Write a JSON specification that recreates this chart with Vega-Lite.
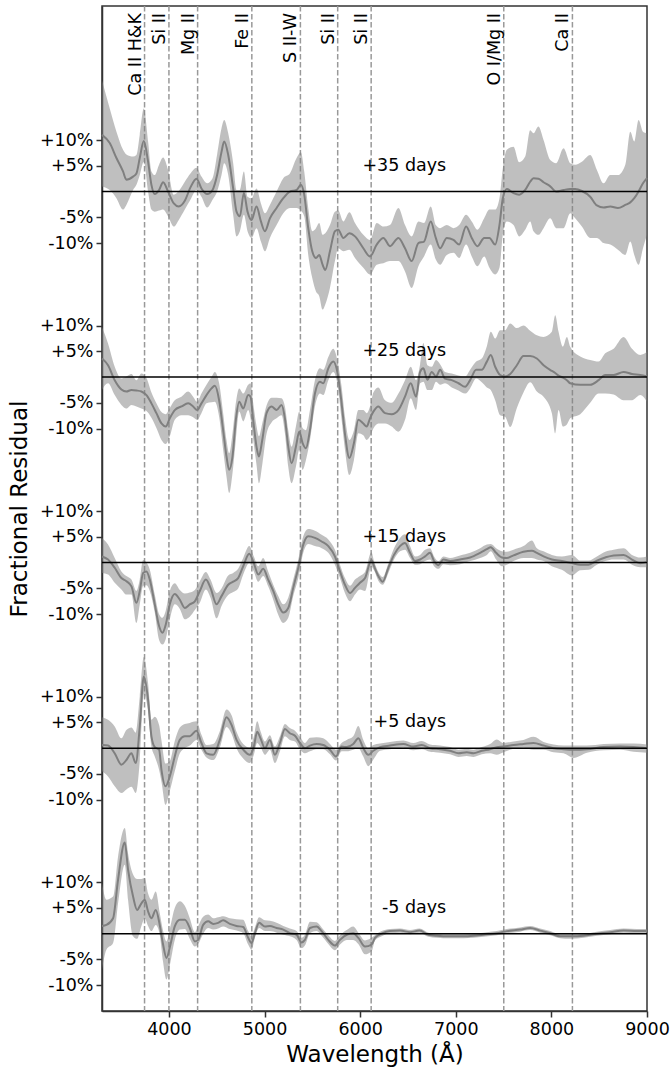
{
  "$schema": "https://vega.github.io/schema/vega-lite/v6.json",
  "width": 545,
  "height": 1005,
  "autosize": "none",
  "padding": {"left": 102, "top": 6, "right": 23, "bottom": 61},
  "background": "white",
  "config": {
    "font": "DejaVu Sans",
    "view": {"stroke": "#333333", "strokeWidth": 1.5},
    "axis": {
      "grid": false,
      "labelFontSize": 17.5,
      "labelColor": "black",
      "labelFlush": false,
      "labelOverlap": false,
      "titleFontSize": 23,
      "titleFontWeight": "normal",
      "titleColor": "black",
      "tickSize": 6,
      "tickWidth": 1.5,
      "tickColor": "#333333",
      "domainColor": "#333333",
      "domainWidth": 1.5,
      "labelPadding": 3
    }
  },
  "datasets": {
    "lines": [
      {"w": 3745, "name": "Ca II H&K"},
      {"w": 4000, "name": "Si II"},
      {"w": 4300, "name": "Mg II"},
      {"w": 4867, "name": "Fe II"},
      {"w": 5375, "name": "S II-W"},
      {"w": 5765, "name": "Si II"},
      {"w": 6115, "name": "Si II"},
      {"w": 7502, "name": "O I/Mg II"},
      {"w": 8220, "name": "Ca II"}
    ],
    "days": [
      {"d": 35, "label": "+35 days"},
      {"d": 25, "label": "+25 days"},
      {"d": 15, "label": "+15 days"},
      {"d": 5, "label": "+5 days"},
      {"d": -5, "label": "-5 days"}
    ],
    "curves": [
      {"d":35,"w":3300,"m":11.0,"lo":1.0,"hi":21.6},
      {"d":35,"w":3381,"m":9.4,"lo":0.3,"hi":16.1},
      {"d":35,"w":3451,"m":6.5,"lo":-1.3,"hi":11.6},
      {"d":35,"w":3520,"m":3.9,"lo":-3.5,"hi":8.1},
      {"d":35,"w":3555,"m":2.3,"lo":-2.6,"hi":7.2},
      {"d":35,"w":3625,"m":2.9,"lo":0.3,"hi":6.8},
      {"d":35,"w":3660,"m":3.5,"lo":1.3,"hi":7.1},
      {"d":35,"w":3695,"m":6.5,"lo":3.2,"hi":11.0},
      {"d":35,"w":3737,"m":9.8,"lo":5.8,"hi":16.1},
      {"d":35,"w":3782,"m":5.8,"lo":0.0,"hi":9.7},
      {"d":35,"w":3817,"m":1.3,"lo":-3.5,"hi":3.9},
      {"d":35,"w":3852,"m":-0.5,"lo":-3.9,"hi":3.2},
      {"d":35,"w":3897,"m":0.3,"lo":-3.7,"hi":5.2},
      {"d":35,"w":3939,"m":1.8,"lo":-3.5,"hi":6.6},
      {"d":35,"w":3991,"m":0.0,"lo":-4.8,"hi":4.2},
      {"d":35,"w":4051,"m":-2.3,"lo":-6.8,"hi":-0.6},
      {"d":35,"w":4103,"m":-2.9,"lo":-5.5,"hi":0.1},
      {"d":35,"w":4166,"m":-1.8,"lo":-3.5,"hi":1.9},
      {"d":35,"w":4225,"m":0.8,"lo":-1.6,"hi":3.5},
      {"d":35,"w":4288,"m":2.5,"lo":0.3,"hi":4.6},
      {"d":35,"w":4340,"m":0.6,"lo":-1.0,"hi":2.9},
      {"d":35,"w":4400,"m":-0.5,"lo":-3.1,"hi":1.6},
      {"d":35,"w":4456,"m":0.3,"lo":-1.6,"hi":2.6},
      {"d":35,"w":4504,"m":3.2,"lo":0.0,"hi":7.2},
      {"d":35,"w":4550,"m":7.7,"lo":3.2,"hi":12.3},
      {"d":35,"w":4578,"m":9.7,"lo":5.5,"hi":13.9},
      {"d":35,"w":4620,"m":7.1,"lo":3.2,"hi":11.3},
      {"d":35,"w":4672,"m":0.6,"lo":-4.5,"hi":5.5},
      {"d":35,"w":4707,"m":-3.9,"lo":-8.7,"hi":0.3},
      {"d":35,"w":4742,"m":-4.8,"lo":-7.7,"hi":0.3},
      {"d":35,"w":4784,"m":-0.3,"lo":-4.5,"hi":3.9},
      {"d":35,"w":4822,"m":-3.9,"lo":-7.7,"hi":-1.0},
      {"d":35,"w":4864,"m":-5.5,"lo":-9.0,"hi":-1.3},
      {"d":35,"w":4916,"m":-2.9,"lo":-7.1,"hi":0.6},
      {"d":35,"w":4962,"m":-5.8,"lo":-9.7,"hi":-2.3},
      {"d":35,"w":5004,"m":-7.7,"lo":-11.6,"hi":-4.2},
      {"d":35,"w":5056,"m":-5.2,"lo":-9.0,"hi":-2.6},
      {"d":35,"w":5126,"m":-3.2,"lo":-6.5,"hi":0.0},
      {"d":35,"w":5196,"m":-1.3,"lo":-4.2,"hi":2.6},
      {"d":35,"w":5265,"m":0.0,"lo":-3.2,"hi":3.5},
      {"d":35,"w":5335,"m":0.3,"lo":-3.2,"hi":6.5},
      {"d":35,"w":5380,"m":1.3,"lo":-3.7,"hi":7.6},
      {"d":35,"w":5415,"m":-0.6,"lo":-4.8,"hi":3.9},
      {"d":35,"w":5457,"m":-7.1,"lo":-12.3,"hi":-3.2},
      {"d":35,"w":5499,"m":-11.6,"lo":-16.8,"hi":-7.7},
      {"d":35,"w":5538,"m":-12.9,"lo":-19.4,"hi":-7.1},
      {"d":35,"w":5572,"m":-12.3,"lo":-20.3,"hi":-6.1},
      {"d":35,"w":5607,"m":-14.2,"lo":-22.9,"hi":-8.4},
      {"d":35,"w":5635,"m":-15.2,"lo":-21.9,"hi":-8.1},
      {"d":35,"w":5684,"m":-11.6,"lo":-18.7,"hi":-6.5},
      {"d":35,"w":5736,"m":-7.7,"lo":-13.5,"hi":-3.9},
      {"d":35,"w":5771,"m":-7.4,"lo":-11.0,"hi":-3.7},
      {"d":35,"w":5824,"m":-9.0,"lo":-11.6,"hi":-5.8},
      {"d":35,"w":5887,"m":-8.1,"lo":-11.3,"hi":-4.0},
      {"d":35,"w":5946,"m":-8.7,"lo":-12.9,"hi":-6.1},
      {"d":35,"w":6033,"m":-11.0,"lo":-14.8,"hi":-8.4},
      {"d":35,"w":6103,"m":-12.6,"lo":-16.1,"hi":-9.4},
      {"d":35,"w":6173,"m":-10.3,"lo":-14.2,"hi":-6.1},
      {"d":35,"w":6243,"m":-9.0,"lo":-13.9,"hi":-6.8},
      {"d":35,"w":6312,"m":-10.6,"lo":-13.5,"hi":-6.5},
      {"d":35,"w":6400,"m":-9.0,"lo":-13.5,"hi":-3.2},
      {"d":35,"w":6469,"m":-11.0,"lo":-15.5,"hi":-6.5},
      {"d":35,"w":6539,"m":-13.5,"lo":-18.7,"hi":-8.7},
      {"d":35,"w":6609,"m":-10.0,"lo":-14.5,"hi":-5.8},
      {"d":35,"w":6668,"m":-9.7,"lo":-12.6,"hi":-6.1},
      {"d":35,"w":6738,"m":-5.8,"lo":-10.3,"hi":-2.9},
      {"d":35,"w":6791,"m":-9.0,"lo":-13.2,"hi":-6.5},
      {"d":35,"w":6836,"m":-11.0,"lo":-14.2,"hi":-7.1},
      {"d":35,"w":6906,"m":-9.0,"lo":-12.3,"hi":-6.5},
      {"d":35,"w":6976,"m":-9.4,"lo":-11.9,"hi":-7.1},
      {"d":35,"w":7035,"m":-10.3,"lo":-12.9,"hi":-6.5},
      {"d":35,"w":7108,"m":-6.8,"lo":-10.3,"hi":-4.5},
      {"d":35,"w":7167,"m":-9.0,"lo":-12.6,"hi":-5.8},
      {"d":35,"w":7227,"m":-10.6,"lo":-14.5,"hi":-7.4},
      {"d":35,"w":7297,"m":-9.0,"lo":-12.6,"hi":-5.2},
      {"d":35,"w":7352,"m":-9.0,"lo":-14.8,"hi":-3.5},
      {"d":35,"w":7412,"m":-10.3,"lo":-16.1,"hi":-3.5},
      {"d":35,"w":7457,"m":-6.5,"lo":-14.8,"hi":-1.3},
      {"d":35,"w":7492,"m":-1.3,"lo":-8.4,"hi":4.5},
      {"d":35,"w":7534,"m":0.5,"lo":-5.8,"hi":8.1},
      {"d":35,"w":7604,"m":-0.3,"lo":-6.5,"hi":8.7},
      {"d":35,"w":7663,"m":-0.6,"lo":-8.7,"hi":5.7},
      {"d":35,"w":7726,"m":0.3,"lo":-7.4,"hi":6.8},
      {"d":35,"w":7778,"m":1.9,"lo":-5.8,"hi":11.9},
      {"d":35,"w":7813,"m":2.6,"lo":-7.7,"hi":11.3},
      {"d":35,"w":7865,"m":2.5,"lo":-8.4,"hi":12.6},
      {"d":35,"w":7918,"m":1.8,"lo":-7.1,"hi":10.0},
      {"d":35,"w":7988,"m":1.0,"lo":-5.2,"hi":6.1},
      {"d":35,"w":8050,"m":0.0,"lo":-7.1,"hi":5.5},
      {"d":35,"w":8127,"m":0.3,"lo":-7.1,"hi":8.4},
      {"d":35,"w":8197,"m":0.5,"lo":-4.2,"hi":5.5},
      {"d":35,"w":8249,"m":0.5,"lo":-5.2,"hi":5.2},
      {"d":35,"w":8319,"m":0.1,"lo":-6.8,"hi":5.8},
      {"d":35,"w":8406,"m":-1.0,"lo":-9.0,"hi":7.1},
      {"d":35,"w":8476,"m":-2.7,"lo":-9.0,"hi":4.2},
      {"d":35,"w":8546,"m":-3.1,"lo":-10.0,"hi":1.6},
      {"d":35,"w":8616,"m":-2.9,"lo":-10.3,"hi":3.2},
      {"d":35,"w":8696,"m":-3.2,"lo":-11.3,"hi":3.2},
      {"d":35,"w":8773,"m":-2.6,"lo":-12.3,"hi":5.2},
      {"d":35,"w":8825,"m":-2.1,"lo":-9.7,"hi":11.6},
      {"d":35,"w":8867,"m":-1.3,"lo":-12.3,"hi":9.7},
      {"d":35,"w":8912,"m":0.0,"lo":-14.2,"hi":13.9},
      {"d":35,"w":8958,"m":1.6,"lo":-11.0,"hi":11.6},
      {"d":35,"w":9000,"m":2.6,"lo":-8.4,"hi":11.3},

      {"d":25,"w":3300,"m":3.6,"lo":-2.5,"hi":9.7},
      {"d":25,"w":3363,"m":2.3,"lo":-1.2,"hi":6.5},
      {"d":25,"w":3433,"m":-0.6,"lo":-3.5,"hi":2.0},
      {"d":25,"w":3503,"m":-2.4,"lo":-5.4,"hi":-0.3},
      {"d":25,"w":3555,"m":-2.8,"lo":-6.1,"hi":0.1},
      {"d":25,"w":3608,"m":-2.5,"lo":-5.4,"hi":0.6},
      {"d":25,"w":3660,"m":-2.6,"lo":-5.7,"hi":-0.6},
      {"d":25,"w":3712,"m":-2.8,"lo":-6.1,"hi":0.7},
      {"d":25,"w":3765,"m":-3.5,"lo":-6.6,"hi":-0.2},
      {"d":25,"w":3817,"m":-5.1,"lo":-7.9,"hi":-3.0},
      {"d":25,"w":3869,"m":-7.0,"lo":-9.9,"hi":-5.1},
      {"d":25,"w":3922,"m":-9.0,"lo":-12.2,"hi":-6.8},
      {"d":25,"w":3967,"m":-9.6,"lo":-13.0,"hi":-7.2},
      {"d":25,"w":4009,"m":-8.0,"lo":-11.5,"hi":-6.0},
      {"d":25,"w":4061,"m":-6.4,"lo":-8.3,"hi":-4.5},
      {"d":25,"w":4131,"m":-5.7,"lo":-7.4,"hi":-3.8},
      {"d":25,"w":4201,"m":-5.1,"lo":-7.4,"hi":-2.8},
      {"d":25,"w":4253,"m":-5.7,"lo":-7.8,"hi":-3.8},
      {"d":25,"w":4295,"m":-6.4,"lo":-8.3,"hi":-4.8},
      {"d":25,"w":4340,"m":-5.1,"lo":-7.0,"hi":-3.2},
      {"d":25,"w":4393,"m":-3.5,"lo":-5.1,"hi":-1.5},
      {"d":25,"w":4445,"m":-2.2,"lo":-4.9,"hi":0.0},
      {"d":25,"w":4480,"m":-1.7,"lo":-4.8,"hi":1.0},
      {"d":25,"w":4525,"m":-4.5,"lo":-7.7,"hi":-1.2},
      {"d":25,"w":4567,"m":-10.3,"lo":-14.1,"hi":-7.0},
      {"d":25,"w":4602,"m":-15.4,"lo":-19.3,"hi":-12.2},
      {"d":25,"w":4630,"m":-18.0,"lo":-22.5,"hi":-14.8},
      {"d":25,"w":4665,"m":-15.4,"lo":-18.6,"hi":-10.9},
      {"d":25,"w":4700,"m":-8.3,"lo":-12.2,"hi":-5.0},
      {"d":25,"w":4735,"m":-4.8,"lo":-6.7,"hi":-2.2},
      {"d":25,"w":4777,"m":-6.1,"lo":-8.6,"hi":-3.2},
      {"d":25,"w":4829,"m":-3.5,"lo":-6.4,"hi":-1.5},
      {"d":25,"w":4853,"m":-3.8,"lo":-8.0,"hi":-1.2},
      {"d":25,"w":4881,"m":-8.3,"lo":-12.0,"hi":-5.0},
      {"d":25,"w":4916,"m":-13.5,"lo":-17.0,"hi":-9.5},
      {"d":25,"w":4941,"m":-15.4,"lo":-20.6,"hi":-11.5},
      {"d":25,"w":4976,"m":-12.2,"lo":-17.0,"hi":-9.0},
      {"d":25,"w":5021,"m":-7.0,"lo":-11.0,"hi":-5.5},
      {"d":25,"w":5073,"m":-5.7,"lo":-8.8,"hi":-4.0},
      {"d":25,"w":5126,"m":-6.4,"lo":-8.0,"hi":-4.0},
      {"d":25,"w":5178,"m":-5.4,"lo":-7.4,"hi":-4.1},
      {"d":25,"w":5213,"m":-8.0,"lo":-10.9,"hi":-5.7},
      {"d":25,"w":5248,"m":-13.5,"lo":-17.4,"hi":-10.3},
      {"d":25,"w":5283,"m":-16.7,"lo":-20.6,"hi":-13.5},
      {"d":25,"w":5328,"m":-13.5,"lo":-17.4,"hi":-9.6},
      {"d":25,"w":5363,"m":-10.6,"lo":-14.1,"hi":-6.7},
      {"d":25,"w":5398,"m":-12.8,"lo":-18.0,"hi":-9.9},
      {"d":25,"w":5433,"m":-13.8,"lo":-16.1,"hi":-10.3},
      {"d":25,"w":5475,"m":-10.3,"lo":-12.2,"hi":-6.4},
      {"d":25,"w":5527,"m":-3.2,"lo":-5.7,"hi":-0.6},
      {"d":25,"w":5579,"m":-0.9,"lo":-3.2,"hi":1.7},
      {"d":25,"w":5614,"m":-1.2,"lo":-3.5,"hi":1.4},
      {"d":25,"w":5667,"m":1.7,"lo":-0.6,"hi":3.9},
      {"d":25,"w":5719,"m":3.0,"lo":1.0,"hi":5.5},
      {"d":25,"w":5761,"m":1.0,"lo":-1.2,"hi":3.3},
      {"d":25,"w":5806,"m":-5.1,"lo":-8.3,"hi":-1.9},
      {"d":25,"w":5841,"m":-11.0,"lo":-14.1,"hi":-7.7},
      {"d":25,"w":5887,"m":-15.7,"lo":-19.0,"hi":-12.2},
      {"d":25,"w":5935,"m":-12.8,"lo":-16.1,"hi":-10.3},
      {"d":25,"w":5981,"m":-8.3,"lo":-10.9,"hi":-6.4},
      {"d":25,"w":6033,"m":-9.0,"lo":-11.3,"hi":-6.4},
      {"d":25,"w":6068,"m":-9.6,"lo":-12.2,"hi":-7.0},
      {"d":25,"w":6103,"m":-8.0,"lo":-11.5,"hi":-5.7},
      {"d":25,"w":6138,"m":-6.7,"lo":-10.0,"hi":-3.0},
      {"d":25,"w":6190,"m":-5.7,"lo":-9.0,"hi":-2.0},
      {"d":25,"w":6260,"m":-7.0,"lo":-9.0,"hi":-4.5},
      {"d":25,"w":6330,"m":-7.2,"lo":-9.6,"hi":-5.0},
      {"d":25,"w":6400,"m":-6.4,"lo":-10.6,"hi":-3.2},
      {"d":25,"w":6469,"m":-3.8,"lo":-8.3,"hi":-0.6},
      {"d":25,"w":6529,"m":-1.2,"lo":-4.1,"hi":2.0},
      {"d":25,"w":6585,"m":-3.8,"lo":-6.4,"hi":-0.6},
      {"d":25,"w":6627,"m":1.0,"lo":-1.2,"hi":2.5},
      {"d":25,"w":6661,"m":1.7,"lo":-0.9,"hi":6.6},
      {"d":25,"w":6703,"m":-0.5,"lo":-2.5,"hi":2.3},
      {"d":25,"w":6749,"m":1.0,"lo":-2.5,"hi":2.0},
      {"d":25,"w":6794,"m":0.1,"lo":-0.9,"hi":3.3},
      {"d":25,"w":6836,"m":1.4,"lo":-1.5,"hi":2.5},
      {"d":25,"w":6888,"m":-0.3,"lo":-1.2,"hi":1.0},
      {"d":25,"w":6958,"m":-0.6,"lo":-2.0,"hi":0.7},
      {"d":25,"w":7028,"m":-1.2,"lo":-2.6,"hi":0.3},
      {"d":25,"w":7098,"m":-1.9,"lo":-3.2,"hi":0.1},
      {"d":25,"w":7150,"m":-0.6,"lo":-2.2,"hi":1.4},
      {"d":25,"w":7213,"m":1.4,"lo":-0.3,"hi":3.0},
      {"d":25,"w":7272,"m":1.4,"lo":-1.0,"hi":3.6},
      {"d":25,"w":7325,"m":3.0,"lo":-2.0,"hi":6.0},
      {"d":25,"w":7366,"m":4.3,"lo":-2.5,"hi":8.8},
      {"d":25,"w":7412,"m":2.0,"lo":-4.5,"hi":7.5},
      {"d":25,"w":7464,"m":0.4,"lo":-7.4,"hi":9.1},
      {"d":25,"w":7516,"m":0.1,"lo":-7.7,"hi":9.1},
      {"d":25,"w":7569,"m":0.6,"lo":-9.7,"hi":10.4},
      {"d":25,"w":7639,"m":2.3,"lo":-6.0,"hi":9.5},
      {"d":25,"w":7708,"m":4.1,"lo":-3.0,"hi":10.0},
      {"d":25,"w":7778,"m":4.1,"lo":-1.0,"hi":9.0},
      {"d":25,"w":7848,"m":3.6,"lo":-2.8,"hi":8.1},
      {"d":25,"w":7918,"m":2.3,"lo":-3.8,"hi":7.8},
      {"d":25,"w":8005,"m":1.2,"lo":-7.0,"hi":8.8},
      {"d":25,"w":8040,"m":0.8,"lo":-10.9,"hi":12.0},
      {"d":25,"w":8075,"m":0.3,"lo":-6.4,"hi":8.8},
      {"d":25,"w":8120,"m":-0.1,"lo":-9.6,"hi":5.9},
      {"d":25,"w":8162,"m":-0.6,"lo":-9.2,"hi":7.8},
      {"d":25,"w":8197,"m":-1.2,"lo":-8.0,"hi":5.9},
      {"d":25,"w":8302,"m":-1.5,"lo":-7.2,"hi":4.0},
      {"d":25,"w":8406,"m":-1.5,"lo":-5.0,"hi":3.3},
      {"d":25,"w":8494,"m":-0.6,"lo":-3.2,"hi":3.0},
      {"d":25,"w":8563,"m":0.4,"lo":-3.2,"hi":4.6},
      {"d":25,"w":8651,"m":0.4,"lo":-3.4,"hi":5.5},
      {"d":25,"w":8755,"m":1.0,"lo":-4.5,"hi":7.8},
      {"d":25,"w":8843,"m":0.6,"lo":-4.5,"hi":5.5},
      {"d":25,"w":8930,"m":0.4,"lo":-3.5,"hi":4.3},
      {"d":25,"w":9000,"m":0.1,"lo":-4.8,"hi":4.9},

      {"d":15,"w":3300,"m":1.2,"lo":-2.0,"hi":4.8},
      {"d":15,"w":3363,"m":0.6,"lo":-2.3,"hi":3.5},
      {"d":15,"w":3433,"m":-1.0,"lo":-3.9,"hi":0.9},
      {"d":15,"w":3503,"m":-3.0,"lo":-5.2,"hi":-1.7},
      {"d":15,"w":3555,"m":-3.6,"lo":-6.2,"hi":-2.6},
      {"d":15,"w":3608,"m":-4.6,"lo":-6.2,"hi":-3.3},
      {"d":15,"w":3660,"m":-7.8,"lo":-11.7,"hi":-5.5},
      {"d":15,"w":3695,"m":-5.5,"lo":-8.1,"hi":-3.3},
      {"d":15,"w":3730,"m":-2.0,"lo":-4.5,"hi":0.5},
      {"d":15,"w":3765,"m":-1.7,"lo":-4.4,"hi":0.0},
      {"d":15,"w":3800,"m":-3.3,"lo":-5.5,"hi":-1.4},
      {"d":15,"w":3852,"m":-8.1,"lo":-9.7,"hi":-6.2},
      {"d":15,"w":3897,"m":-12.3,"lo":-15.0,"hi":-10.0},
      {"d":15,"w":3932,"m":-13.6,"lo":-15.9,"hi":-10.7},
      {"d":15,"w":3967,"m":-12.0,"lo":-14.8,"hi":-9.3},
      {"d":15,"w":4009,"m":-8.1,"lo":-11.0,"hi":-5.5},
      {"d":15,"w":4061,"m":-6.1,"lo":-8.1,"hi":-4.0},
      {"d":15,"w":4114,"m":-7.2,"lo":-9.0,"hi":-5.3},
      {"d":15,"w":4166,"m":-8.8,"lo":-11.0,"hi":-6.0},
      {"d":15,"w":4218,"m":-8.1,"lo":-10.5,"hi":-5.8},
      {"d":15,"w":4271,"m":-7.5,"lo":-9.2,"hi":-5.3},
      {"d":15,"w":4323,"m":-5.5,"lo":-7.8,"hi":-3.6},
      {"d":15,"w":4386,"m":-3.3,"lo":-5.2,"hi":-1.8},
      {"d":15,"w":4435,"m":-4.9,"lo":-6.8,"hi":-3.3},
      {"d":15,"w":4498,"m":-8.1,"lo":-10.8,"hi":-5.9},
      {"d":15,"w":4550,"m":-6.5,"lo":-8.4,"hi":-5.0},
      {"d":15,"w":4620,"m":-4.3,"lo":-6.3,"hi":-2.5},
      {"d":15,"w":4672,"m":-3.7,"lo":-5.7,"hi":-2.0},
      {"d":15,"w":4724,"m":-3.0,"lo":-5.0,"hi":-1.2},
      {"d":15,"w":4777,"m":-0.7,"lo":-2.3,"hi":0.9},
      {"d":15,"w":4840,"m":1.7,"lo":-0.1,"hi":3.2},
      {"d":15,"w":4888,"m":-0.1,"lo":-1.7,"hi":1.2},
      {"d":15,"w":4934,"m":-2.3,"lo":-3.7,"hi":-0.7},
      {"d":15,"w":4986,"m":-1.2,"lo":-2.6,"hi":0.9},
      {"d":15,"w":5038,"m":-3.3,"lo":-4.6,"hi":-1.7},
      {"d":15,"w":5091,"m":-5.5,"lo":-7.2,"hi":-4.3},
      {"d":15,"w":5143,"m":-8.1,"lo":-10.1,"hi":-6.5},
      {"d":15,"w":5196,"m":-9.7,"lo":-11.7,"hi":-8.1},
      {"d":15,"w":5248,"m":-8.8,"lo":-10.7,"hi":-6.8},
      {"d":15,"w":5300,"m":-4.9,"lo":-6.5,"hi":-3.3},
      {"d":15,"w":5353,"m":-1.0,"lo":-3.0,"hi":0.6},
      {"d":15,"w":5405,"m":3.5,"lo":1.9,"hi":5.1},
      {"d":15,"w":5457,"m":5.1,"lo":3.6,"hi":6.5},
      {"d":15,"w":5527,"m":4.8,"lo":3.2,"hi":6.2},
      {"d":15,"w":5597,"m":4.1,"lo":2.8,"hi":5.4},
      {"d":15,"w":5667,"m":3.2,"lo":1.9,"hi":4.5},
      {"d":15,"w":5736,"m":1.2,"lo":-0.4,"hi":2.5},
      {"d":15,"w":5789,"m":-1.7,"lo":-3.0,"hi":-0.4},
      {"d":15,"w":5841,"m":-4.3,"lo":-5.9,"hi":-3.0},
      {"d":15,"w":5894,"m":-5.9,"lo":-7.5,"hi":-4.5},
      {"d":15,"w":5946,"m":-4.9,"lo":-6.2,"hi":-3.3},
      {"d":15,"w":5998,"m":-3.9,"lo":-5.2,"hi":-2.6},
      {"d":15,"w":6051,"m":-3.0,"lo":-5.5,"hi":-1.8},
      {"d":15,"w":6118,"m":0.5,"lo":-0.8,"hi":2.0},
      {"d":15,"w":6145,"m":-0.7,"lo":-1.5,"hi":0.3},
      {"d":15,"w":6190,"m":-2.6,"lo":-3.5,"hi":-1.8},
      {"d":15,"w":6236,"m":-3.7,"lo":-4.3,"hi":-2.8},
      {"d":15,"w":6295,"m":-1.0,"lo":-2.0,"hi":-0.1},
      {"d":15,"w":6354,"m":1.5,"lo":0.6,"hi":2.8},
      {"d":15,"w":6417,"m":3.2,"lo":2.2,"hi":4.8},
      {"d":15,"w":6469,"m":3.8,"lo":2.5,"hi":5.5},
      {"d":15,"w":6522,"m":1.9,"lo":0.9,"hi":3.2},
      {"d":15,"w":6574,"m":0.3,"lo":-0.4,"hi":1.2},
      {"d":15,"w":6627,"m":0.6,"lo":-0.3,"hi":1.5},
      {"d":15,"w":6679,"m":1.2,"lo":0.3,"hi":2.5},
      {"d":15,"w":6731,"m":1.9,"lo":0.6,"hi":2.8},
      {"d":15,"w":6773,"m":0.3,"lo":-0.7,"hi":1.2},
      {"d":15,"w":6818,"m":-0.5,"lo":-1.2,"hi":0.3},
      {"d":15,"w":6871,"m":0.6,"lo":-0.3,"hi":1.2},
      {"d":15,"w":6941,"m":0.3,"lo":-0.5,"hi":0.9},
      {"d":15,"w":7045,"m":0.6,"lo":-0.3,"hi":1.4},
      {"d":15,"w":7150,"m":1.0,"lo":0.3,"hi":1.9},
      {"d":15,"w":7255,"m":1.9,"lo":0.9,"hi":2.8},
      {"d":15,"w":7325,"m":2.6,"lo":1.5,"hi":3.5},
      {"d":15,"w":7366,"m":3.0,"lo":2.2,"hi":3.6},
      {"d":15,"w":7422,"m":1.9,"lo":0.6,"hi":2.8},
      {"d":15,"w":7482,"m":1.0,"lo":-0.7,"hi":2.2},
      {"d":15,"w":7534,"m":0.9,"lo":-0.4,"hi":2.1},
      {"d":15,"w":7604,"m":1.4,"lo":0.3,"hi":2.5},
      {"d":15,"w":7708,"m":2.1,"lo":0.9,"hi":3.2},
      {"d":15,"w":7796,"m":2.3,"lo":0.9,"hi":4.3},
      {"d":15,"w":7848,"m":1.9,"lo":0.6,"hi":2.8},
      {"d":15,"w":7918,"m":1.2,"lo":0.3,"hi":2.2},
      {"d":15,"w":8005,"m":0.6,"lo":-0.7,"hi":1.5},
      {"d":15,"w":8110,"m":0.3,"lo":-1.4,"hi":1.2},
      {"d":15,"w":8215,"m":-0.1,"lo":-2.5,"hi":1.5},
      {"d":15,"w":8302,"m":-0.4,"lo":-1.5,"hi":0.4},
      {"d":15,"w":8389,"m":-0.4,"lo":-1.4,"hi":0.4},
      {"d":15,"w":8476,"m":0.4,"lo":-0.4,"hi":1.2},
      {"d":15,"w":8563,"m":1.0,"lo":0.3,"hi":2.1},
      {"d":15,"w":8651,"m":1.4,"lo":0.6,"hi":2.5},
      {"d":15,"w":8755,"m":1.5,"lo":0.6,"hi":2.8},
      {"d":15,"w":8843,"m":0.6,"lo":-0.4,"hi":1.5},
      {"d":15,"w":8930,"m":-0.1,"lo":-0.9,"hi":1.0},
      {"d":15,"w":9000,"m":0.1,"lo":-0.9,"hi":1.2},

      {"d":5,"w":3300,"m":0.6,"lo":-4.5,"hi":6.0},
      {"d":5,"w":3363,"m":0.5,"lo":-5.5,"hi":5.5},
      {"d":5,"w":3433,"m":-1.0,"lo":-7.4,"hi":4.2},
      {"d":5,"w":3503,"m":-3.2,"lo":-8.7,"hi":1.9},
      {"d":5,"w":3555,"m":-2.3,"lo":-8.0,"hi":3.5},
      {"d":5,"w":3608,"m":-1.0,"lo":-7.5,"hi":4.0},
      {"d":5,"w":3653,"m":-2.9,"lo":-8.7,"hi":3.0},
      {"d":5,"w":3695,"m":4.2,"lo":-2.5,"hi":10.0},
      {"d":5,"w":3737,"m":13.9,"lo":10.5,"hi":17.7},
      {"d":5,"w":3782,"m":9.4,"lo":7.1,"hi":12.6},
      {"d":5,"w":3817,"m":2.3,"lo":0.3,"hi":5.5},
      {"d":5,"w":3852,"m":0.2,"lo":-1.6,"hi":6.1},
      {"d":5,"w":3897,"m":-0.3,"lo":-4.2,"hi":4.5},
      {"d":5,"w":3922,"m":-4.2,"lo":-6.5,"hi":1.5},
      {"d":5,"w":3964,"m":-7.4,"lo":-11.0,"hi":-3.0},
      {"d":5,"w":4009,"m":-5.5,"lo":-8.3,"hi":-2.5},
      {"d":5,"w":4061,"m":-1.6,"lo":-4.5,"hi":1.4},
      {"d":5,"w":4114,"m":1.6,"lo":-1.0,"hi":4.0},
      {"d":5,"w":4166,"m":2.3,"lo":0.0,"hi":4.7},
      {"d":5,"w":4218,"m":2.3,"lo":0.5,"hi":4.9},
      {"d":5,"w":4288,"m":3.4,"lo":1.6,"hi":5.2},
      {"d":5,"w":4340,"m":1.0,"lo":-0.3,"hi":2.6},
      {"d":5,"w":4393,"m":-1.0,"lo":-1.8,"hi":0.6},
      {"d":5,"w":4463,"m":-1.3,"lo":-2.3,"hi":0.8},
      {"d":5,"w":4532,"m":1.6,"lo":0.1,"hi":3.3},
      {"d":5,"w":4602,"m":6.0,"lo":4.1,"hi":7.5},
      {"d":5,"w":4655,"m":4.5,"lo":2.8,"hi":6.4},
      {"d":5,"w":4707,"m":1.6,"lo":0.0,"hi":3.2},
      {"d":5,"w":4777,"m":-0.3,"lo":-2.0,"hi":0.8},
      {"d":5,"w":4846,"m":-1.3,"lo":-2.9,"hi":0.1},
      {"d":5,"w":4888,"m":0.3,"lo":-1.3,"hi":2.3},
      {"d":5,"w":4923,"m":3.2,"lo":1.0,"hi":5.2},
      {"d":5,"w":4958,"m":1.9,"lo":0.2,"hi":3.3},
      {"d":5,"w":5004,"m":0.0,"lo":-1.3,"hi":1.3},
      {"d":5,"w":5056,"m":1.6,"lo":-0.3,"hi":2.5},
      {"d":5,"w":5108,"m":-1.3,"lo":-2.9,"hi":0.3},
      {"d":5,"w":5161,"m":1.0,"lo":-0.6,"hi":2.3},
      {"d":5,"w":5213,"m":3.7,"lo":2.3,"hi":4.7},
      {"d":5,"w":5265,"m":2.9,"lo":1.6,"hi":3.9},
      {"d":5,"w":5318,"m":2.4,"lo":1.3,"hi":3.4},
      {"d":5,"w":5370,"m":1.0,"lo":-0.2,"hi":2.2},
      {"d":5,"w":5422,"m":0.0,"lo":-1.0,"hi":1.0},
      {"d":5,"w":5475,"m":0.5,"lo":-0.6,"hi":2.0},
      {"d":5,"w":5545,"m":0.8,"lo":-0.2,"hi":2.1},
      {"d":5,"w":5614,"m":0.6,"lo":-0.2,"hi":1.9},
      {"d":5,"w":5684,"m":-0.3,"lo":-1.2,"hi":0.8},
      {"d":5,"w":5747,"m":-1.6,"lo":-2.4,"hi":-0.3},
      {"d":5,"w":5806,"m":0.3,"lo":-0.6,"hi":1.0},
      {"d":5,"w":5859,"m":0.2,"lo":-0.6,"hi":1.6},
      {"d":5,"w":5928,"m":0.8,"lo":-0.3,"hi":2.3},
      {"d":5,"w":5981,"m":1.9,"lo":0.0,"hi":4.3},
      {"d":5,"w":6033,"m":0.0,"lo":-1.6,"hi":1.6},
      {"d":5,"w":6085,"m":-1.3,"lo":-3.5,"hi":0.0},
      {"d":5,"w":6138,"m":-0.5,"lo":-2.2,"hi":0.6},
      {"d":5,"w":6208,"m":0.2,"lo":-0.5,"hi":0.9},
      {"d":5,"w":6312,"m":0.5,"lo":-0.2,"hi":1.2},
      {"d":5,"w":6452,"m":0.8,"lo":0.1,"hi":1.5},
      {"d":5,"w":6557,"m":0.3,"lo":-0.4,"hi":1.0},
      {"d":5,"w":6644,"m":0.6,"lo":-0.2,"hi":1.4},
      {"d":5,"w":6731,"m":0.0,"lo":-0.7,"hi":0.7},
      {"d":5,"w":6836,"m":-0.2,"lo":-0.9,"hi":0.5},
      {"d":5,"w":6941,"m":-0.5,"lo":-1.2,"hi":0.2},
      {"d":5,"w":7028,"m":-1.0,"lo":-1.7,"hi":-0.3},
      {"d":5,"w":7115,"m":-0.8,"lo":-1.5,"hi":-0.1},
      {"d":5,"w":7185,"m":-1.0,"lo":-1.7,"hi":-0.3},
      {"d":5,"w":7272,"m":-0.5,"lo":-1.2,"hi":0.2},
      {"d":5,"w":7359,"m":-0.2,"lo":-1.0,"hi":0.8},
      {"d":5,"w":7429,"m":0.2,"lo":-1.3,"hi":1.7},
      {"d":5,"w":7499,"m":0.3,"lo":-0.8,"hi":1.0},
      {"d":5,"w":7604,"m":0.6,"lo":-0.1,"hi":1.3},
      {"d":5,"w":7708,"m":0.8,"lo":0.1,"hi":1.6},
      {"d":5,"w":7813,"m":1.0,"lo":-0.3,"hi":2.2},
      {"d":5,"w":7918,"m":0.5,"lo":-0.3,"hi":1.2},
      {"d":5,"w":8023,"m":0.0,"lo":-0.8,"hi":0.7},
      {"d":5,"w":8127,"m":-0.2,"lo":-1.0,"hi":0.5},
      {"d":5,"w":8232,"m":-0.3,"lo":-1.9,"hi":0.5},
      {"d":5,"w":8372,"m":-0.2,"lo":-0.9,"hi":0.5},
      {"d":5,"w":8546,"m":0.2,"lo":-0.4,"hi":0.8},
      {"d":5,"w":8721,"m":0.3,"lo":-0.3,"hi":0.9},
      {"d":5,"w":8860,"m":0.2,"lo":-0.7,"hi":0.9},
      {"d":5,"w":9000,"m":0.0,"lo":-0.9,"hi":0.7},

      {"d":-5,"w":3300,"m":1.5,"lo":-7.0,"hi":9.8},
      {"d":-5,"w":3346,"m":1.7,"lo":-3.1,"hi":6.6},
      {"d":-5,"w":3416,"m":3.0,"lo":-1.8,"hi":7.2},
      {"d":-5,"w":3468,"m":10.5,"lo":5.9,"hi":15.0},
      {"d":-5,"w":3538,"m":17.7,"lo":13.4,"hi":20.5},
      {"d":-5,"w":3573,"m":12.4,"lo":6.5,"hi":15.5},
      {"d":-5,"w":3625,"m":7.2,"lo":-0.5,"hi":11.5},
      {"d":-5,"w":3667,"m":4.6,"lo":-1.0,"hi":10.6},
      {"d":-5,"w":3712,"m":5.9,"lo":1.5,"hi":10.6},
      {"d":-5,"w":3747,"m":6.6,"lo":3.0,"hi":10.8},
      {"d":-5,"w":3782,"m":4.3,"lo":1.5,"hi":7.8},
      {"d":-5,"w":3817,"m":3.0,"lo":0.5,"hi":6.6},
      {"d":-5,"w":3862,"m":4.6,"lo":1.7,"hi":8.2},
      {"d":-5,"w":3904,"m":1.7,"lo":-0.2,"hi":4.0},
      {"d":-5,"w":3939,"m":-2.1,"lo":-5.5,"hi":0.5},
      {"d":-5,"w":3974,"m":-4.7,"lo":-8.9,"hi":-1.5},
      {"d":-5,"w":4016,"m":-2.1,"lo":-5.5,"hi":1.5},
      {"d":-5,"w":4061,"m":1.4,"lo":-1.2,"hi":5.0},
      {"d":-5,"w":4114,"m":2.7,"lo":0.8,"hi":6.3},
      {"d":-5,"w":4166,"m":2.7,"lo":0.9,"hi":5.4},
      {"d":-5,"w":4218,"m":1.1,"lo":-1.0,"hi":3.0},
      {"d":-5,"w":4271,"m":-1.5,"lo":-2.5,"hi":0.3},
      {"d":-5,"w":4306,"m":-1.2,"lo":-2.0,"hi":1.5},
      {"d":-5,"w":4358,"m":1.7,"lo":0.0,"hi":3.3},
      {"d":-5,"w":4410,"m":2.4,"lo":1.1,"hi":3.7},
      {"d":-5,"w":4463,"m":1.9,"lo":0.8,"hi":3.0},
      {"d":-5,"w":4515,"m":2.1,"lo":1.0,"hi":3.2},
      {"d":-5,"w":4567,"m":2.6,"lo":1.4,"hi":3.4},
      {"d":-5,"w":4637,"m":1.9,"lo":0.9,"hi":3.0},
      {"d":-5,"w":4707,"m":1.5,"lo":0.6,"hi":2.8},
      {"d":-5,"w":4777,"m":1.3,"lo":0.1,"hi":2.7},
      {"d":-5,"w":4829,"m":-0.8,"lo":-2.1,"hi":0.5},
      {"d":-5,"w":4864,"m":-1.8,"lo":-3.1,"hi":-0.5},
      {"d":-5,"w":4899,"m":0.1,"lo":-0.8,"hi":1.2},
      {"d":-5,"w":4944,"m":2.1,"lo":1.1,"hi":3.2},
      {"d":-5,"w":5004,"m":1.4,"lo":0.5,"hi":2.6},
      {"d":-5,"w":5056,"m":1.5,"lo":0.5,"hi":2.5},
      {"d":-5,"w":5126,"m":1.1,"lo":0.2,"hi":2.1},
      {"d":-5,"w":5196,"m":0.8,"lo":-0.2,"hi":1.5},
      {"d":-5,"w":5265,"m":0.1,"lo":-0.5,"hi":1.0},
      {"d":-5,"w":5335,"m":-0.2,"lo":-1.2,"hi":0.5},
      {"d":-5,"w":5387,"m":-1.7,"lo":-2.8,"hi":-0.8},
      {"d":-5,"w":5422,"m":-1.2,"lo":-2.3,"hi":-0.2},
      {"d":-5,"w":5475,"m":1.1,"lo":0.1,"hi":2.3},
      {"d":-5,"w":5545,"m":1.4,"lo":0.5,"hi":2.2},
      {"d":-5,"w":5597,"m":0.5,"lo":-0.4,"hi":1.2},
      {"d":-5,"w":5667,"m":-1.2,"lo":-2.0,"hi":-0.3},
      {"d":-5,"w":5736,"m":-2.3,"lo":-3.2,"hi":-1.4},
      {"d":-5,"w":5789,"m":-1.2,"lo":-2.1,"hi":-0.3},
      {"d":-5,"w":5859,"m":-0.2,"lo":-1.2,"hi":0.7},
      {"d":-5,"w":5928,"m":0.1,"lo":-1.2,"hi":1.4},
      {"d":-5,"w":5981,"m":-0.8,"lo":-2.0,"hi":0.2},
      {"d":-5,"w":6051,"m":-2.5,"lo":-4.0,"hi":-1.3},
      {"d":-5,"w":6120,"m":-2.1,"lo":-3.4,"hi":-0.8},
      {"d":-5,"w":6155,"m":-0.8,"lo":-1.3,"hi":-0.3},
      {"d":-5,"w":6225,"m":0.0,"lo":-0.5,"hi":0.5},
      {"d":-5,"w":6312,"m":0.5,"lo":0.1,"hi":0.9},
      {"d":-5,"w":6417,"m":0.6,"lo":0.2,"hi":1.0},
      {"d":-5,"w":6522,"m":0.3,"lo":-0.1,"hi":0.7},
      {"d":-5,"w":6620,"m":0.6,"lo":0.2,"hi":1.0},
      {"d":-5,"w":6714,"m":-0.2,"lo":-0.6,"hi":0.2},
      {"d":-5,"w":6801,"m":-0.4,"lo":-0.8,"hi":0.0},
      {"d":-5,"w":6941,"m":-0.5,"lo":-0.9,"hi":-0.1},
      {"d":-5,"w":7080,"m":-0.5,"lo":-0.9,"hi":-0.1},
      {"d":-5,"w":7185,"m":-0.4,"lo":-0.8,"hi":0.0},
      {"d":-5,"w":7290,"m":-0.2,"lo":-0.6,"hi":0.2},
      {"d":-5,"w":7429,"m":0.1,"lo":-0.3,"hi":0.5},
      {"d":-5,"w":7534,"m":0.5,"lo":0.1,"hi":0.9},
      {"d":-5,"w":7674,"m":0.8,"lo":0.4,"hi":1.2},
      {"d":-5,"w":7778,"m":1.1,"lo":0.7,"hi":1.5},
      {"d":-5,"w":7883,"m":0.6,"lo":0.2,"hi":1.0},
      {"d":-5,"w":7988,"m":0.1,"lo":-0.3,"hi":0.5},
      {"d":-5,"w":8092,"m":-0.5,"lo":-0.9,"hi":-0.1},
      {"d":-5,"w":8197,"m":-0.5,"lo":-1.0,"hi":-0.1},
      {"d":-5,"w":8337,"m":-0.4,"lo":-0.8,"hi":0.0},
      {"d":-5,"w":8476,"m":0.0,"lo":-0.4,"hi":0.4},
      {"d":-5,"w":8616,"m":0.3,"lo":-0.1,"hi":0.7},
      {"d":-5,"w":8755,"m":0.6,"lo":0.2,"hi":1.0},
      {"d":-5,"w":8895,"m":0.5,"lo":0.1,"hi":0.9},
      {"d":-5,"w":9000,"m":0.5,"lo":0.1,"hi":0.9}
    ]
  },
  "layer": [
    {
      "data": {"name": "lines"},
      "mark": {"type": "rule", "color": "#999999", "strokeWidth": 1.5, "strokeDash": [5.5, 2.5]},
      "encoding": {
        "x": {
          "field": "w",
          "type": "quantitative",
          "scale": {"domain": [3300, 9000], "nice": false, "zero": false},
          "axis": {
            "title": "Wavelength (Å)",
            "values": [4000, 5000, 6000, 7000, 8000, 9000],
            "format": "d",
            "titlePadding": 6
          }
        }
      }
    },
    {
      "data": {"name": "lines"},
      "mark": {"type": "text", "angle": 270, "align": "right", "baseline": "alphabetic", "fontSize": 17.5, "color": "black", "dx": -7, "dy": -4},
      "encoding": {
        "x": {"field": "w", "type": "quantitative"},
        "y": {"datum": 180, "type": "quantitative"},
        "text": {"field": "name"}
      }
    },
    {
      "data": {"name": "curves"},
      "transform": [
        {"calculate": "3.6 * (datum.d + 5)", "as": "o"},
        {"calculate": "datum.lo + datum.o", "as": "yl"},
        {"calculate": "datum.hi + datum.o", "as": "yh"}
      ],
      "mark": {"type": "area", "interpolate": "monotone", "color": "#808080", "opacity": 0.5},
      "encoding": {
        "x": {"field": "w", "type": "quantitative"},
        "y": {
          "field": "yl",
          "type": "quantitative",
          "scale": {"domain": [-15, 180], "nice": false, "zero": false},
          "axis": {
            "title": "Fractional Residual",
            "values": [-10, -5, 5, 10, 26, 31, 41, 46, 62, 67, 77, 82, 98, 103, 113, 118, 134, 139, 149, 154],
            "labelExpr": "((datum.value % 36) + 36) % 36 == 10 ? '+10%' : ((datum.value % 36) + 36) % 36 == 5 ? '+5%' : ((datum.value % 36) + 36) % 36 == 31 ? '-5%' : '-10%'",
            "titlePadding": 8
          }
        },
        "y2": {"field": "yh"},
        "detail": {"field": "d"}
      }
    },
    {
      "data": {"name": "curves"},
      "transform": [
        {"calculate": "datum.m + 3.6 * (datum.d + 5)", "as": "ym"}
      ],
      "mark": {"type": "line", "interpolate": "monotone", "color": "#7f7f7f", "strokeWidth": 2},
      "encoding": {
        "x": {"field": "w", "type": "quantitative"},
        "y": {"field": "ym", "type": "quantitative"},
        "detail": {"field": "d"}
      }
    },
    {
      "data": {"name": "days"},
      "transform": [{"calculate": "3.6 * (datum.d + 5)", "as": "o"}],
      "mark": {"type": "rule", "color": "black", "strokeWidth": 1.5},
      "encoding": {
        "y": {"field": "o", "type": "quantitative"}
      }
    },
    {
      "data": {"name": "days"},
      "transform": [{"calculate": "3.6 * (datum.d + 5) + 5", "as": "yt"}],
      "mark": {"type": "text", "align": "right", "baseline": "middle", "fontSize": 17.5, "color": "black"},
      "encoding": {
        "x": {"datum": 6900, "type": "quantitative"},
        "y": {"field": "yt", "type": "quantitative"},
        "text": {"field": "label"}
      }
    }
  ]
}
